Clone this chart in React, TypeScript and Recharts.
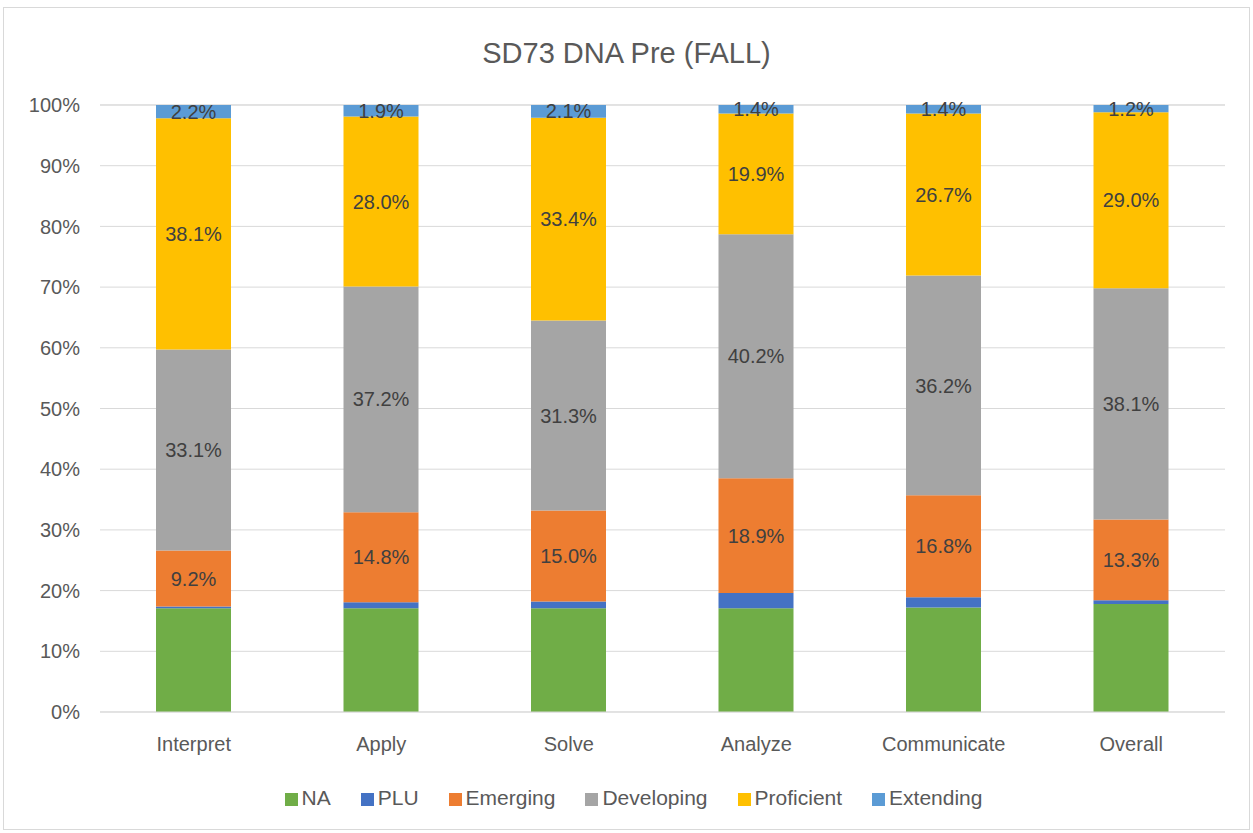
import { BarChart, Bar, XAxis, YAxis, CartesianGrid, Legend, LabelList } from "recharts";

const categories = ["Interpret", "Apply", "Solve", "Analyze", "Communicate", "Overall"];
const na = [17.1, 17.1, 17.1, 17.1, 17.2, 17.8];
const plu = [0.3, 1.0, 1.1, 2.5, 1.7, 0.6];
const emerging = [9.2, 14.8, 15.0, 18.9, 16.8, 13.3];
const developing = [33.1, 37.2, 31.3, 40.2, 36.2, 38.1];
const proficient = [38.1, 28.0, 33.4, 19.9, 26.7, 29.0];
const extending = [2.2, 1.9, 2.1, 1.4, 1.4, 1.2];
const yTicks = [0, 10, 20, 30, 40, 50, 60, 70, 80, 90, 100];

const data = categories.map((name, i) => ({
  name,
  NA: na[i],
  PLU: plu[i],
  Emerging: emerging[i],
  Developing: developing[i],
  Proficient: proficient[i],
  Extending: extending[i],
}));

const FONT = "'Liberation Sans', Arial, sans-serif";
const pct = (v: number) => `${Number(v).toFixed(1)}%`;

const series = [
  { key: "NA", color: "#70AD47", label: false },
  { key: "PLU", color: "#4472C4", label: false },
  { key: "Emerging", color: "#ED7D31", label: true },
  { key: "Developing", color: "#A5A5A5", label: true },
  { key: "Proficient", color: "#FFC000", label: true },
  { key: "Extending", color: "#5B9BD5", label: true },
];
const order = series.map((s) => s.key);

export default function App() {
  return (
    <div
      style={{
        position: "absolute",
        left: 3,
        top: 7,
        width: 1247,
        height: 823,
        border: "1px solid #d9d9d9",
        boxSizing: "border-box",
        background: "#fff",
        fontFamily: FONT,
      }}
    >
      <div
        style={{
          position: "absolute",
          top: 27,
          left: 0,
          width: "100%",
          textAlign: "center",
          fontSize: 29,
          color: "#595959",
          lineHeight: "36px",
        }}
      >
        SD73 DNA Pre (FALL)
      </div>
      <BarChart
        width={1245}
        height={821}
        data={data}
        margin={{ top: 97, right: 24, left: 0, bottom: 53 }}
        barSize={75}
      >
        <CartesianGrid vertical={false} stroke="#d9d9d9" />
        <XAxis
          dataKey="name"
          axisLine={{ stroke: "#d9d9d9" }}
          tickLine={false}
          tickSize={0}
          tickMargin={25}
          height={40}
          tick={{ fill: "#595959", fontSize: 20, fontFamily: FONT }}
        />
        <YAxis
          domain={[0, 100]}
          ticks={yTicks}
          width={96}
          axisLine={false}
          tickLine={false}
          tickSize={0}
          tickMargin={20}
          tickFormatter={(v) => `${v}%`}
          tick={{ fill: "#595959", fontSize: 20, fontFamily: FONT }}
        />
        <Legend
          iconType="square"
          iconSize={13}
          itemSorter={(item: any) => order.indexOf(String(item.dataKey))}
          wrapperStyle={{ top: 778, left: 34, width: 1221, fontSize: 21, fontFamily: FONT }}
          formatter={(value) => (
            <span style={{ color: "#595959", marginRight: 20 }}>{value}</span>
          )}
        />
        {series.map((s) => (
          <Bar
            key={s.key}
            dataKey={s.key}
            stackId="a"
            fill={s.color}
            isAnimationActive={false}
          >
            {s.label && (
              <LabelList
                dataKey={s.key}
                position="center"
                formatter={pct}
                fill="#404040"
                fontSize={20}
                fontFamily={FONT}
              />
            )}
          </Bar>
        ))}
      </BarChart>
    </div>
  );
}
